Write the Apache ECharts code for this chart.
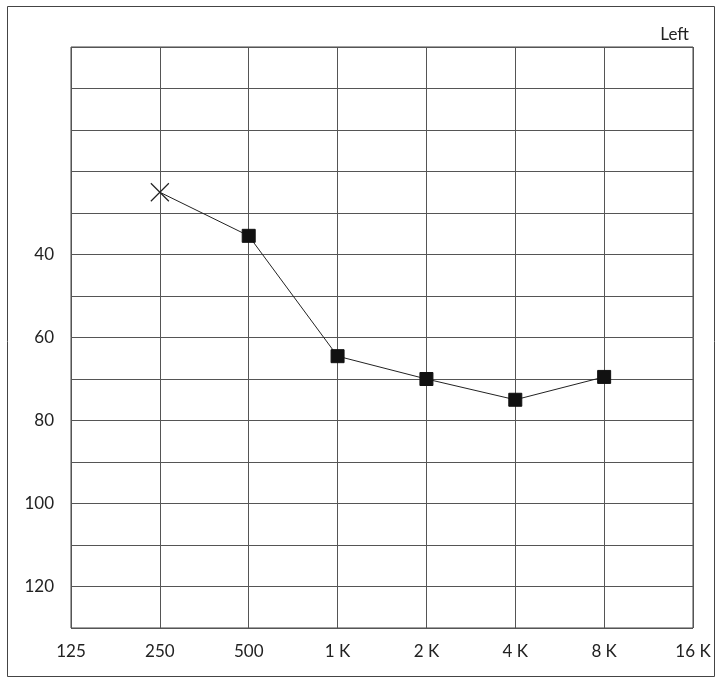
<!DOCTYPE html>
<html><head><meta charset="utf-8">
<script src="https://cdn.jsdelivr.net/npm/echarts@6/dist/echarts.min.js"></script>
<style>html,body{margin:0;padding:0;background:#fff}#c{width:720px;height:683px}</style>
</head><body><div id="c"></div>
<script>
const frequencies = ['125', '250', '500', '1 K', '2 K', '4 K', '8 K', '16 K'];
const thresholds = [null, 25, 35.5, 64.5, 70, 75, 69.5, null];
const yTickLabels = [40, 60, 80, 100, 120];
const title = 'Left';

const chart = echarts.init(document.getElementById('c'), null, {renderer: 'canvas'});
const FONT = 'Lato, "DejaVu Sans", sans-serif';
const data = thresholds.map((v, i) => {
  if (i === 1) {
    return {value: v, symbol: 'path://M0,0L10,10M10,0L0,10', symbolSize: 18,
      itemStyle: {color: 'transparent', borderColor: '#222', borderWidth: 1.2}};
  }
  return v;
});
chart.setOption({
  animation: false,
  backgroundColor: '#fff',
  title: {text: title, right: 26, top: 21, textStyle: {fontFamily: FONT, fontSize: 17, fontWeight: 'normal', color: '#222'}},
  graphic: [{type: 'rect', shape: {x: 7.5, y: 6.5, width: 707, height: 670}, style: {fill: 'none', stroke: '#444', lineWidth: 1}, silent: true}],
  grid: {left: 71, right: 27, top: 47, bottom: 55, show: true, borderColor: '#444', borderWidth: 1},
  xAxis: {
    type: 'category', data: frequencies, boundaryGap: false,
    axisLine: {show: false}, axisTick: {show: false},
    axisLabel: {margin: 15, fontFamily: FONT, fontSize: 17, color: '#222'},
    splitLine: {show: true, lineStyle: {color: '#555', width: 1}}
  },
  yAxis: {
    type: 'value', inverse: true, min: -10, max: 130, interval: 10,
    axisLine: {show: false}, axisTick: {show: false},
    axisLabel: {margin: 17, fontFamily: FONT, fontSize: 17, color: '#222',
      formatter: v => yTickLabels.includes(v) ? String(v) : ''},
    splitLine: {show: true, lineStyle: {color: '#555', width: 1}}
  },
  series: [{
    type: 'line', data: data, connectNulls: false,
    symbol: 'rect', symbolSize: 13,
    lineStyle: {color: '#222', width: 1},
    itemStyle: {color: '#111', borderColor: '#111'}
  }]
});
</script></body></html>
